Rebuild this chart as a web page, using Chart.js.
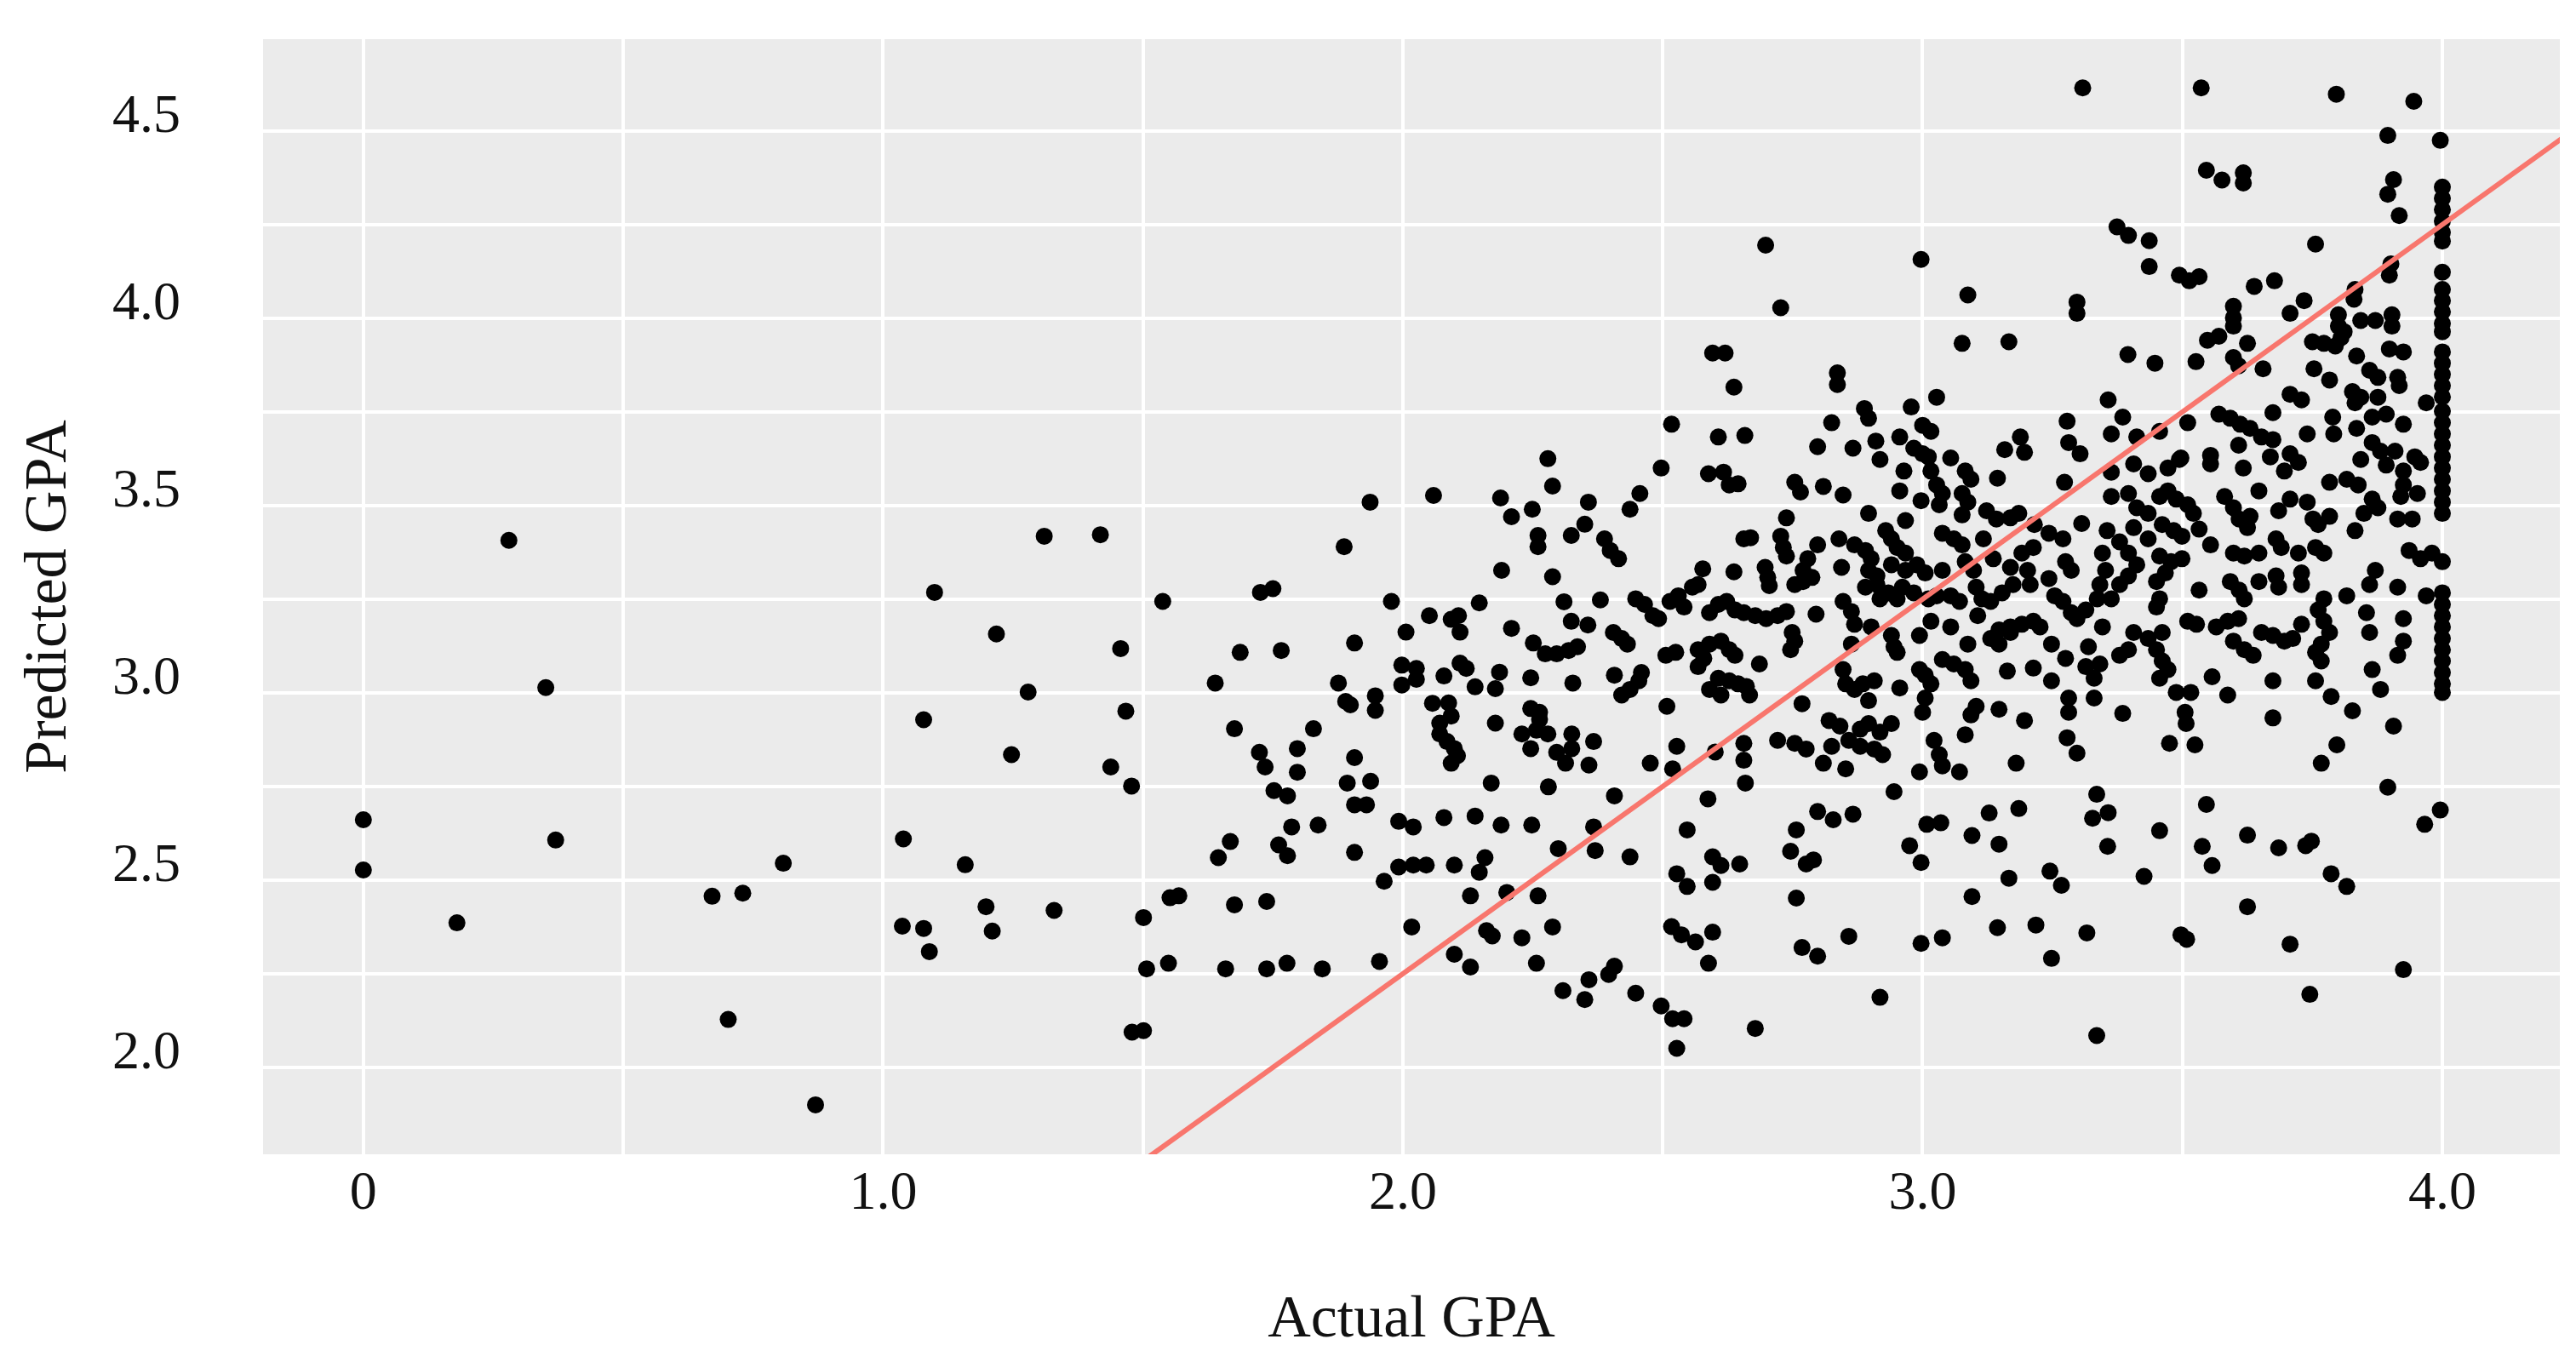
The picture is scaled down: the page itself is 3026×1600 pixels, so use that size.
<!DOCTYPE html>
<html lang="en">

<head>
    <meta charset="UTF-8">
    <title>Actual vs Predicted GPA</title>
    <style>
        html, body { margin: 0; padding: 0; background: #ffffff; }
        #wrap { width: 3026px; height: 1600px; }
    </style>
</head>

<body>

    <div id="wrap">
        <canvas id="gpaChart" width="3026" height="1600"></canvas>
    </div>

    <script src="https://cdn.jsdelivr.net/npm/chart.js@4.4.1/dist/chart.umd.min.js"></script>

    <script>
        // actual GPA (x) of every student
        var actualGpa = [
            // far left, sparse
            0, 0, 0.18, 0.28, 0.351, 0.37, 0.671, 0.73, 0.702, 0.808,
            0.87, 1.039, 1.078, 1.099, 1.037, 1.078, 1.089, 1.158, 1.198, 1.21,
            1.218, 1.247, 1.279, 1.31, 1.329, 1.418, 1.438, 1.457, 1.467, 1.478,
            1.479,
            // 1.5 - 2.4, upper
            2.279, 2.288, 2.059, 1.937, 2.188, 2.209, 2.249, 2.357, 2.26, 2.26,
            2.324, 2.35, 2.19, 2.288, 1.887, 1.726, 1.75, 1.538, 1.978, 2.147,
            2.31,
            // 1.5 - 2.4, lower
            2.324, 2.356, 2.051, 2.093, 2.107, 2.11, 2.006, 2.209, 2.251, 2.274,
            2.296, 2.319, 2.336, 1.687, 1.766, 1.907, 1.639, 1.876, 1.89, 1.899,
            1.947, 1.947, 1.998, 2.026, 1.998, 2.026, 2.079, 2.11, 2.122, 2.139,
            2.186, 2.178, 2.246, 2.327, 2.057, 2.088, 2.093, 2.071, 2.071, 2.085,
            2.099, 2.105, 2.093, 2.178, 2.246, 2.263, 2.229, 2.257, 2.279, 2.246,
            2.263, 2.325, 2.367, 2.296, 2.313, 2.358, 2.325, 1.676, 1.828, 1.724,
            1.735, 1.797, 1.797, 1.907, 1.893, 1.938, 1.752, 1.778, 1.907, 1.93,
            2.17, 2.28, 1.786, 1.837, 1.761, 1.778, 1.668, 1.645, 1.907, 1.992,
            2.02, 2.079, 2.139, 2.189, 2.248, 2.367, 2.37, 2.299, 1.992, 2.02,
            2.045, 1.964, 2.099, 2.158, 2.147, 2.13, 2.2, 2.26, 1.552, 1.569,
            1.501, 1.676, 1.738, 2.017, 2.161, 2.172, 2.229, 2.288, 2.099, 2.13,
            2.257, 1.507, 1.549, 1.659, 1.738, 1.777, 1.845, 1.955, 2.358, 2.308,
            2.35, 1.501,
            // 2.4 - 3.2, top
            2.698, 2.997, 2.727, 3.087, 2.596, 2.62, 3.076, 3.166, 2.637, 2.836,
            2.836, 3.027,
            // 3.2 - 4.0, top
            3.308, 3.536, 3.796, 3.945, 3.895, 3.996, 3.546, 3.576, 3.617, 3.617,
            3.906, 4, 4, 4, 4, 4, 4, 3.895, 3.917, 3.374,
            3.396, 3.436, 3.756, 3.436, 3.494, 3.513, 3.532, 3.638, 3.677, 3.901,
            3.898, 4, 3.832, 3.83, 3.297, 3.297, 3.734, 3.707, 3.598, 3.598,
            3.598, 4, 4, 4, 4, 4, 3.8, 3.8, 3.811, 3.843,
            3.871, 3.903, 3.903, 3.548, 3.57, 3.625, 3.75, 3.772, 3.794, 3.805,
            3.898, 3.925, 3.835, 3.395, 3.447, 3.526, 3.598, 3.608, 3.655, 3.753,
            3.783, 3.86, 3.876, 3.914, 3.917, 4, 4, 4, 4, 4,
            3.357, 3.707, 3.729, 3.827, 3.843, 3.832, 3.876, 3.969,
            // 2.4 - 3.2, middle
            2.517, 2.607, 2.658, 2.825, 2.888, 2.896, 2.978, 2.798, 2.866, 2.91,
            2.918, 2.956, 3.0, 3.016, 2.983, 3.0, 3.011, 3.054, 3.158, 3.188,
            3.196, 2.497, 2.588, 2.617, 2.628, 2.645, 2.964, 3.016, 3.082, 3.093,
            2.456, 2.437, 2.754, 2.765, 2.809, 2.847, 2.956, 2.997, 3.027, 3.038,
            3.032, 3.076, 3.087, 3.076, 3.144, 2.896, 2.967, 3.123, 3.142, 3.169,
            3.185, 2.738,
            2.388, 2.399, 2.415, 2.656, 2.669, 2.727, 2.732, 2.738, 2.798, 2.779,
            2.77, 2.839, 2.869, 2.89, 2.901, 2.929, 2.94, 2.951, 2.967, 3.038,
            3.06, 3.076, 3.117, 2.577, 2.637, 2.697, 2.702, 2.705, 2.754, 2.77,
            2.787, 2.844, 2.896, 2.912, 2.94, 2.967, 2.989, 3.005, 3.038, 3.082,
            3.098, 3.136, 3.169, 3.191, 3.213,
            2.38, 2.448, 2.465, 2.481, 2.492, 2.514, 2.53, 2.541, 2.557, 2.568,
            2.59, 2.607, 2.623, 2.639, 2.656, 2.678, 2.699, 2.721, 2.738, 2.795,
            2.847, 2.863, 2.869, 2.89, 2.912, 2.918, 2.934, 2.951, 2.961, 2.983,
            3.011, 3.027, 3.054, 3.071, 3.016, 3.054, 3.103, 3.114, 3.106, 3.131,
            3.153, 3.174, 3.207, 3.202, 3.213, 3.191, 3.169, 3.147, 2.405, 2.421,
            2.432, 2.749, 2.754, 2.746,
            2.506, 2.525, 2.568, 2.579, 2.59, 2.612, 2.628, 2.639, 2.568, 2.686,
            2.863, 2.901, 2.94, 2.945, 2.951, 2.994, 3.087, 3.131, 3.147, 3.169,
            2.407, 2.421, 2.437, 2.454, 2.459, 2.607, 2.628, 2.645, 2.661, 2.667,
            2.59, 2.612, 2.847, 2.852, 2.869, 2.885, 2.907, 2.896, 2.956, 2.994,
            3.005, 3.016, 3.038, 3.06, 3.082, 3.093, 3.163, 3.213,
            2.508, 2.768, 3.005, 3.0, 3.103, 3.093, 3.147, 3.196, 2.82, 2.841,
            2.88, 2.896, 2.918, 2.94, 2.858, 2.88, 2.907, 2.923, 2.825, 3.082,
            2.721, 2.754, 2.776, 2.656, 2.656, 2.601, 2.527, 2.476, 2.519, 2.809,
            2.852, 3.022, 3.032, 3.038, 2.994, 3.071, 3.18,
            // 3.2 - 4.0, middle
            3.278, 3.385, 3.363, 3.51, 3.57, 3.592, 3.611, 3.63, 3.674, 3.74,
            3.789, 3.791, 3.835, 3.865, 3.892, 3.925, 3.281, 3.303, 3.412, 3.456,
            3.497, 3.554, 3.554, 3.608, 3.617, 3.652, 3.674, 3.669, 3.696, 3.707,
            3.723, 3.843, 3.865, 3.881, 3.892, 3.909, 3.925, 3.947, 3.958, 3.273,
            3.363, 3.406, 3.434, 3.472, 3.494, 3.363, 3.396, 3.412, 3.434, 3.456,
            3.472, 3.488, 3.51, 3.521, 3.461, 3.483, 3.499, 3.532, 3.406, 3.434,
            3.581, 3.598, 3.609, 3.63, 3.625, 3.647, 3.685, 3.707, 3.74, 3.751,
            3.783, 3.783, 3.816, 3.838, 3.865, 3.849, 3.832, 3.876, 3.761, 3.925,
            3.92, 3.952, 3.914, 3.942, 4, 4, 4, 4, 4, 4,
            4, 4, 4, 4,
            3.215, 3.243, 3.27, 3.306, 3.355, 3.275, 3.286, 3.243, 3.346, 3.352,
            3.341, 3.363, 3.379, 3.396, 3.412, 3.379, 3.396, 3.456, 3.478, 3.499,
            3.467, 3.45, 3.554, 3.598, 3.619, 3.647, 3.68, 3.69, 3.723, 3.756,
            3.772, 3.532, 3.592, 3.609, 3.619, 3.647, 3.68, 3.685, 3.729, 3.729,
            3.254, 3.27, 3.286, 3.297, 3.314, 3.336, 3.226, 3.456, 3.45, 3.871,
            3.86, 3.914, 3.816, 3.772, 3.761, 3.936, 3.958, 3.98, 4, 3.969,
            4, 4, 4, 4, 4, 4, 4, 4, 4, 4,
            3.51, 3.527, 3.565, 3.587, 3.608, 3.598, 3.619, 3.636, 3.652, 3.674,
            3.696, 3.712, 3.729, 3.772, 3.783, 3.767, 3.756, 3.767, 3.854, 3.86,
            3.925, 3.925, 3.914, 3.248, 3.275, 3.319, 3.314, 3.341, 3.346, 3.379,
            3.396, 3.406, 3.434, 3.45, 3.461, 3.472, 3.456, 3.461, 3.33, 3.33,
            3.248, 3.281, 3.281, 3.385, 3.488, 3.516, 3.505, 3.507, 3.475, 3.524,
            3.278, 3.297, 3.557, 3.587, 3.674, 3.674, 3.756, 3.786, 3.827, 3.865,
            3.881, 3.906, 3.797, 3.767,
            // 2.4 - 3.2, bottom
            2.407, 2.587, 2.659, 2.945, 2.437, 2.547, 2.527, 2.547, 2.596, 2.612,
            2.648, 2.596, 2.757, 2.798, 2.828, 2.866, 2.746, 2.776, 2.79, 2.757,
            2.975, 2.997, 3.008, 3.035, 3.095, 3.128, 3.185, 3.147, 3.166, 3.095,
            2.517, 2.536, 2.563, 2.596, 2.588, 2.768, 2.798, 2.858, 2.997, 3.038,
            3.144, 3.218, 2.407, 2.396, 2.448, 2.497, 2.519, 2.541, 2.527, 2.678,
            2.918,
            // 3.2 - 4.0, bottom
            3.895, 3.335, 3.327, 3.357, 3.356, 3.456, 3.546, 3.538, 3.557, 3.625,
            3.685, 3.737, 3.748, 3.786, 3.816, 3.996, 3.966, 3.245, 3.267, 3.426,
            3.625, 3.316, 3.497, 3.508, 3.707, 3.248, 3.925, 3.745, 3.335
        ];

        // predicted GPA (y), same order as actualGpa
        var predictedGpa = [
            2.661, 2.527, 2.386, 3.407, 3.014, 2.607, 2.457, 2.465, 2.128, 2.545,
            1.9, 2.61, 2.928, 3.268, 2.377, 2.371, 2.309, 2.541, 2.429, 2.364,
            3.157, 2.835, 3.002, 3.418, 2.419, 3.422, 2.802, 3.118, 2.951, 2.751,
            2.094,
            3.625, 3.552, 3.527, 3.509, 3.52, 3.47, 3.49, 3.509, 3.42, 3.39,
            3.42, 3.45, 3.327, 3.31, 3.39, 3.268, 3.278, 3.244, 3.244, 3.24,
            3.243,
            3.191, 3.181, 3.206, 3.196, 3.206, 3.162, 3.162, 3.172, 3.133, 3.104,
            3.104, 3.113, 3.123, 3.108, 3.113, 3.133, 3.026, 3.026, 2.977, 2.968,
            2.992, 2.953, 3.074, 3.065, 3.021, 3.036, 3.045, 3.079, 3.065, 3.016,
            3.055, 3.011, 3.04, 3.026, 2.972, 2.973, 2.938, 2.919, 2.89, 2.87,
            2.851, 2.832, 2.812, 2.919, 2.958, 2.948, 2.89, 2.9, 2.89, 2.851,
            2.929, 2.89, 2.87, 2.841, 2.812, 2.807, 2.851, 2.904, 2.904, 2.841,
            2.802, 2.851, 2.788, 2.827, 2.759, 2.764, 2.739, 2.725, 2.701, 2.701,
            2.759, 2.749, 2.642, 2.647, 2.594, 2.565, 2.603, 2.56, 2.574, 2.657,
            2.642, 2.667, 2.671, 2.647, 2.647, 2.642, 2.579, 2.584, 2.535, 2.54,
            2.54, 2.497, 2.54, 2.56, 2.521, 2.458, 2.467, 2.458, 2.453, 2.458,
            2.4, 2.434, 2.443, 2.375, 2.365, 2.351, 2.346, 2.375, 2.302, 2.268,
            2.278, 2.263, 2.278, 2.263, 2.263, 2.278, 2.263, 2.283, 2.234, 2.205,
            2.181, 2.098,
            4.195, 4.157, 4.028, 4.062, 3.907, 3.907, 3.933, 3.937, 3.816, 3.854,
            3.823, 3.789,
            4.615, 4.615, 4.598, 4.579, 4.488, 4.475, 4.395, 4.369, 4.388, 4.361,
            4.37, 4.35, 4.32, 4.29, 4.259, 4.229, 4.206, 4.331, 4.274, 4.244,
            4.221, 4.207, 4.198, 4.138, 4.115, 4.1, 4.111, 4.085, 4.1, 4.145,
            4.115, 4.123, 4.077, 4.051, 4.043, 4.013, 4.047, 4.013, 4.032, 4.001,
            3.979, 4.077, 4.047, 4.017, 3.986, 3.964, 4.009, 3.979, 3.964, 3.994,
            3.994, 4.009, 3.979, 3.941, 3.952, 3.933, 3.937, 3.933, 3.926, 3.948,
            3.918, 3.91, 3.899, 3.903, 3.88, 3.884, 3.895, 3.873, 3.865, 3.865,
            3.835, 3.861, 3.842, 3.842, 3.82, 3.91, 3.88, 3.85, 3.82, 3.79,
            3.782, 3.797, 3.782, 3.804, 3.789, 3.774, 3.789, 3.774,
            3.717, 3.683, 3.687, 3.721, 3.759, 3.733, 3.763, 3.657, 3.653, 3.672,
            3.623, 3.683, 3.714, 3.698, 3.653, 3.638, 3.63, 3.627, 3.649, 3.683,
            3.642, 3.6, 3.585, 3.589, 3.555, 3.558, 3.592, 3.592, 3.592, 3.57,
            3.532, 3.49, 3.562, 3.536, 3.551, 3.528, 3.539, 3.513, 3.555, 3.532,
            3.502, 3.532, 3.509, 3.475, 3.573, 3.479, 3.46, 3.486, 3.464, 3.467,
            3.479, 3.467,
            3.411, 3.38, 3.358, 3.411, 3.414, 3.418, 3.388, 3.365, 3.395, 3.358,
            3.327, 3.411, 3.395, 3.38, 3.358, 3.433, 3.411, 3.388, 3.373, 3.426,
            3.411, 3.395, 3.411, 3.331, 3.323, 3.335, 3.308, 3.286, 3.289, 3.297,
            3.308, 3.335, 3.327, 3.312, 3.342, 3.327, 3.342, 3.32, 3.327, 3.35,
            3.327, 3.358, 3.335, 3.373, 3.388,
            3.248, 3.251, 3.236, 3.206, 3.198, 3.244, 3.259, 3.229, 3.282, 3.289,
            3.214, 3.236, 3.244, 3.221, 3.214, 3.206, 3.198, 3.206, 3.217, 3.21,
            3.244, 3.217, 3.183, 3.282, 3.289, 3.251, 3.267, 3.251, 3.282, 3.267,
            3.251, 3.259, 3.259, 3.244, 3.191, 3.176, 3.282, 3.251, 3.206, 3.244,
            3.267, 3.289, 3.289, 3.327, 3.191, 3.183, 3.176, 3.168, 3.161, 3.145,
            3.13, 3.161, 3.138, 3.115,
            3.1, 3.108, 3.115, 3.092, 3.13, 3.138, 3.115, 3.1, 3.07, 3.077,
            3.13, 3.176, 3.153, 3.123, 3.108, 3.153, 3.13, 3.145, 3.13, 3.161,
            3.047, 2.994, 3.009, 3.032, 3.054, 3.039, 3.032, 3.024, 3.017, 2.994,
            3.009, 2.994, 3.062, 3.024, 3.009, 3.024, 3.032, 2.979, 3.013, 3.062,
            3.047, 3.024, 3.089, 3.077, 3.062, 3.032, 3.058, 3.066,
            2.964, 2.971, 2.986, 2.948, 2.964, 2.941, 2.956, 2.926, 2.926, 2.911,
            2.903, 2.918, 2.895, 2.918, 2.873, 2.857, 2.85, 2.835, 2.857, 2.888,
            2.873, 2.865, 2.85, 2.865, 2.82, 2.842, 2.857, 2.812, 2.797, 2.812,
            2.797, 2.873, 2.835, 2.805, 2.789, 2.789, 2.812,
            3.725, 3.736, 3.691, 3.721, 3.744, 3.733, 3.717, 3.706, 3.748, 3.691,
            3.736, 3.691, 3.706, 3.736, 3.744, 3.717, 3.668, 3.638, 3.683, 3.698,
            3.627, 3.634, 3.611, 3.661, 3.6, 3.683, 3.676, 3.63, 3.592, 3.638,
            3.615, 3.623, 3.668, 3.645, 3.608, 3.645, 3.592, 3.63, 3.615, 3.562,
            3.589, 3.611, 3.585, 3.6, 3.623, 3.524, 3.532, 3.494, 3.479, 3.524,
            3.539, 3.517, 3.502, 3.479, 3.449, 3.433, 3.418, 3.437, 3.441, 3.411,
            3.524, 3.494, 3.464, 3.471, 3.441, 3.539, 3.486, 3.517, 3.509, 3.464,
            3.471, 3.562, 3.57, 3.555, 3.517, 3.479, 3.433, 3.494, 3.449, 3.555,
            3.524, 3.532, 3.464, 3.464, 3.752, 3.721, 3.691, 3.661, 3.63, 3.6,
            3.57, 3.539, 3.509, 3.479,
            3.449, 3.426, 3.411, 3.452, 3.433, 3.35, 3.327, 3.305, 3.373, 3.327,
            3.289, 3.251, 3.403, 3.373, 3.342, 3.289, 3.312, 3.365, 3.35, 3.358,
            3.32, 3.297, 3.395, 3.373, 3.365, 3.373, 3.411, 3.388, 3.373, 3.388,
            3.373, 3.274, 3.297, 3.274, 3.251, 3.297, 3.312, 3.282, 3.32, 3.289,
            3.259, 3.244, 3.214, 3.198, 3.221, 3.251, 3.176, 3.251, 3.229, 3.327,
            3.289, 3.282, 3.259, 3.251, 3.221, 3.38, 3.358, 3.373, 3.35, 3.259,
            3.267, 3.236, 3.206, 3.176, 3.145, 3.115, 3.085, 3.054, 3.024, 3.001,
            3.191, 3.183, 3.176, 3.191, 3.198, 3.138, 3.115, 3.1, 3.161, 3.153,
            3.138, 3.145, 3.183, 3.191, 3.161, 3.13, 3.108, 3.085, 3.214, 3.161,
            3.198, 3.138, 3.1, 3.13, 3.092, 3.123, 3.07, 3.077, 3.176, 3.1,
            3.115, 3.161, 3.145, 3.115, 3.085, 3.062, 3.039, 3.161, 3.039, 2.986,
            3.032, 2.986, 2.948, 2.945, 3.001, 3.001, 2.948, 2.918, 2.865, 2.861,
            2.88, 2.839, 3.043, 2.994, 3.032, 2.933, 3.032, 2.99, 2.952, 3.062,
            3.009, 2.911, 2.861, 2.812,
            2.725, 2.717, 2.759, 2.736, 2.562, 2.634, 2.517, 2.483, 2.562, 2.539,
            2.543, 2.494, 2.634, 2.683, 2.661, 2.676, 2.577, 2.543, 2.554, 2.452,
            2.592, 2.547, 2.649, 2.653, 2.619, 2.679, 2.691, 2.596, 2.505, 2.456,
            2.376, 2.354, 2.335, 2.361, 2.278, 2.32, 2.297, 2.35, 2.331, 2.346,
            2.373, 2.38, 2.27, 2.248, 2.198, 2.164, 2.13, 2.13, 2.051, 2.104,
            2.187,
            2.748, 2.729, 2.665, 2.68, 2.59, 2.632, 2.702, 2.59, 2.539, 2.62,
            2.586, 2.592, 2.604, 2.517, 2.483, 2.687, 2.649, 2.524, 2.486, 2.51,
            2.429, 2.359, 2.354, 2.342, 2.329, 2.291, 2.261, 2.195, 2.085
        ];

        // red reference line
        var fitX = [1.45, 4.25];
        var fitY = [1.70, 4.50];

        // axis ticks
        var xTickValues = [0, 1, 2, 3, 4];
        var xTickLabels = ['0', '1.0', '2.0', '3.0', '4.0'];
        var yTickValues = [2.0, 2.5, 3.0, 3.5, 4.0, 4.5];
        var yTickLabels = ['2.0', '2.5', '3.0', '3.5', '4.0', '4.5'];

        if (actualGpa.length !== predictedGpa.length) {
            console.warn('length mismatch', actualGpa.length, predictedGpa.length);
        }

        document.addEventListener("DOMContentLoaded", function () {

            // grid every half step on x and every quarter step on y, like ggplot
            var xGrid = [];
            for (var gx = 0; gx <= 4; gx += 0.5) xGrid.push(gx);
            var yGrid = [];
            for (var gy = 2; gy <= 4.5; gy += 0.25) yGrid.push(gy);

            var points = [];
            var n = Math.min(actualGpa.length, predictedGpa.length);
            for (var i = 0; i < n; i++) {
                points.push({ x: actualGpa[i], y: predictedGpa[i] });
            }
            var fitLine = fitX.map(function (x, k) { return { x: x, y: fitY[k] }; });

            var panelBg = {
                id: 'panelBg',
                beforeDraw: function (chart) {
                    var a = chart.chartArea;
                    var ctx = chart.ctx;
                    ctx.save();
                    ctx.fillStyle = '#ebebeb';
                    ctx.fillRect(a.left, a.top, a.right - a.left, a.bottom - a.top);
                    ctx.restore();
                }
            };

            Chart.defaults.font.family = "'Liberation Serif', 'Times New Roman', serif";
            Chart.defaults.color = '#111111';

            var ctx = document.getElementById('gpaChart').getContext('2d');
            var gpaChart = new Chart(ctx, {
                type: 'scatter',
                data: {
                    datasets: [
                        {
                            label: 'fit',
                            data: fitLine,
                            showLine: true,
                            borderColor: '#f8766d',
                            borderWidth: 6,
                            pointRadius: 0,
                            order: 0
                        },
                        {
                            label: 'students',
                            data: points,
                            backgroundColor: '#000000',
                            borderWidth: 0,
                            pointRadius: 10,
                            pointHoverRadius: 10,
                            order: 1
                        }
                    ]
                },
                options: {
                    responsive: false,
                    devicePixelRatio: 1,
                    animation: false,
                    events: [],
                    layout: { padding: { top: 46, right: 19, left: 0, bottom: 0 } },
                    plugins: {
                        legend: { display: false },
                        tooltip: { enabled: false }
                    },
                    scales: {
                        x: {
                            type: 'linear',
                            min: -0.193,
                            max: 4.226,
                            afterBuildTicks: function (scale) {
                                scale.ticks = xGrid.map(function (v) { return { value: v }; });
                            },
                            afterFit: function (scale) {
                                scale.height = 244;
                                scale.paddingLeft = 0;
                                scale.paddingRight = 0;
                            },
                            grid: { color: '#ffffff', lineWidth: 4, drawTicks: false },
                            border: { display: false },
                            ticks: {
                                autoSkip: false,
                                maxRotation: 0,
                                padding: 9,
                                font: { size: 64 },
                                color: '#111111',
                                callback: function (value) {
                                    var k = xTickValues.indexOf(value);
                                    return k >= 0 ? xTickLabels[k] : '';
                                }
                            },
                            title: {
                                display: true,
                                text: 'Actual GPA',
                                font: { size: 70 },
                                color: '#111111',
                                padding: { top: 0, bottom: 6 }
                            }
                        },
                        y: {
                            type: 'linear',
                            min: 1.768,
                            max: 4.745,
                            afterBuildTicks: function (scale) {
                                scale.ticks = yGrid.map(function (v) { return { value: v }; });
                            },
                            afterFit: function (scale) {
                                scale.width = 309;
                                scale.paddingTop = 0;
                                scale.paddingBottom = 0;
                            },
                            grid: { color: '#ffffff', lineWidth: 4, drawTicks: false },
                            border: { display: false },
                            ticks: {
                                autoSkip: false,
                                padding: 97,
                                labelOffset: -16,
                                font: { size: 64 },
                                color: '#111111',
                                callback: function (value) {
                                    var k = yTickValues.indexOf(value);
                                    return k >= 0 ? yTickLabels[k] : '';
                                }
                            },
                            title: {
                                display: true,
                                text: 'Predicted GPA',
                                font: { size: 70 },
                                color: '#111111',
                                padding: { top: 17, bottom: 0 }
                            }
                        }
                    }
                },
                plugins: [panelBg]
            });

        });
    </script>
</body>

</html>
